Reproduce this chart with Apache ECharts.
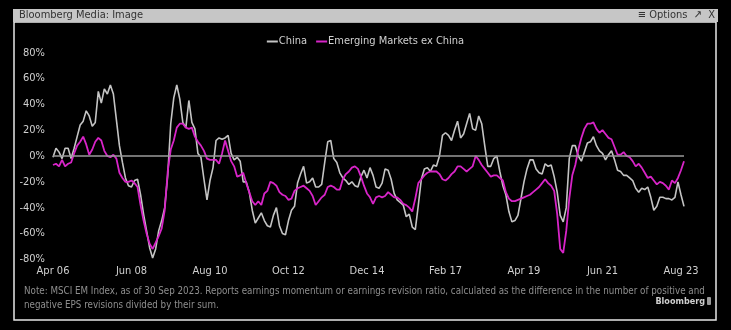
<!DOCTYPE html>
<html><head><meta charset="utf-8">
<script src="https://cdn.jsdelivr.net/npm/echarts@6/dist/echarts.min.js"></script>
<style>html,body{margin:0;padding:0;background:#000;}#c{width:731px;height:330px;}</style>
</head><body><div id="c"></div>
<script>
// Monthly, Apr 2006 .. Sep 2023
const startYear = 2006, startMonth = 3, monthCount = 210;
const monthNames = ['Jan','Feb','Mar','Apr','May','Jun','Jul','Aug','Sep','Oct','Nov','Dec'];
const categories = [];
for (let i = 0; i < monthCount; i++) {
  const mm = (startMonth + i) % 12, yy = startYear + Math.floor((startMonth + i) / 12);
  categories.push(monthNames[mm] + ' ' + String(yy % 100).padStart(2, '0'));
}
const yTicks = [-80, -60, -40, -20, 0, 20, 40, 60, 80];

const china = [
 -1,6,3,-2,6,6,-2,6,15,24, 27,35,31,23,26,50,41,52,48,55,
 48,28,8,-5,-17,-23,-24,-19,-18,-30, -45,-58,-71,-79,-72,-58,-50,-40,-15,25,
 45,55,44,26,22,43,26,21,2,-1, -18,-34,-19,-9,12,14,13,14,16,2,
 -3,-1,-4,-20,-20,-28,-42,-52,-48,-44, -50,-54,-55,-46,-40,-54,-60,-61,-50,-42,
 -39,-21,-14,-8,-21,-20,-17,-24,-24,-22, -5,11,12,-2,-5,-13,-17,-19,-22,-20,
 -23,-24,-16,-11,-17,-9,-15,-24,-25,-21, -10,-11,-18,-29,-34,-36,-38,-47,-45,-55,
 -57,-38,-18,-10,-9,-12,-7,-8,0,16, 18,16,12,20,27,14,17,25,33,21,
 20,31,25,8,-8,-8,-2,0,-12,-23, -30,-43,-51,-50,-46,-33,-20,-10,-3,-3,
 -10,-13,-14,-6,-8,-7,-16,-28,-46,-51, -40,-2,8,8,0,-4,3,10,11,15,
 8,4,2,-3,1,4,-3,-11,-12,-15, -15,-17,-19,-25,-28,-25,-26,-24,-32,-42,
 -39,-32,-32,-33,-33,-34,-32,-20,-30,-39
];
const emExChina = [
 -7,-6,-8,-3,-8,-6,-5,2,8,11, 15,9,1,5,11,14,12,4,0,-1,
 1,-2,-13,-17,-20,-20,-19,-21,-24,-38, -50,-60,-68,-72,-67,-62,-56,-42,-12,5,
 12,22,25,25,22,21,22,15,11,8, 4,-2,-3,-3,-3,-6,2,12,4,-4,
 -8,-16,-15,-13,-21,-28,-35,-38,-35,-38, -29,-27,-20,-21,-23,-28,-30,-31,-34,-33,
 -27,-25,-24,-23,-25,-27,-31,-38,-35,-32, -30,-24,-23,-24,-26,-26,-18,-14,-12,-9,
 -8,-10,-16,-23,-29,-32,-37,-32,-31,-32, -31,-28,-30,-32,-32,-34,-37,-38,-40,-43,
 -33,-21,-18,-15,-13,-12,-12,-12,-14,-18, -19,-17,-14,-12,-8,-8,-10,-12,-10,-8,
 0,-3,-7,-10,-13,-16,-15,-15,-17,-19, -28,-33,-35,-35,-34,-33,-32,-31,-30,-28,
 -26,-24,-21,-18,-21,-23,-27,-45,-72,-75, -58,-33,-15,-7,5,14,21,25,25,26,
 21,18,20,17,14,13,7,1,1,3, 0,-1,-4,-8,-6,-9,-13,-17,-16,-19,
 -22,-20,-21,-23,-26,-19,-21,-17,-11,-4
];

const FONT = "'Liberation Sans Narrow','DejaVu Sans Condensed','Roboto Condensed',sans-serif";
const chart = echarts.init(document.getElementById('c'), null, {renderer: 'canvas'});
chart.setOption({
  backgroundColor: '#000',
  animation: false,
  graphic: [
    {type: 'rect', shape: {x: 13, y: 9, width: 705, height: 13}, style: {fill: '#c6c6c6'}, z: 10},
    {type: 'text', left: 19, top: 10, style: {text: 'Bloomberg Media: Image', fill: '#333', font: "11px " + FONT}, z: 11},
    {type: 'text', right: 16, top: 10, style: {text: '≡ Options  ↗  X', fill: '#333', font: "11px " + FONT}, z: 11},
    {type: 'rect', shape: {x: 14, y: 22, width: 702, height: 298}, style: {fill: 'none', stroke: '#e6e6e6', lineWidth: 1.5}, z: 9},
    {type: 'text', x: 24, y: 284, scaleX: 0.926, style: {text: 'Note: MSCI EM Index, as of 30 Sep 2023. Reports earnings momentum or earnings revision ratio, calculated as the difference in the number of positive and\nnegative EPS revisions divided by their sum.', fill: '#8e8e8e', font: "10.5px " + FONT, lineHeight: 14}, z: 11},
    {type: 'text', right: 26, top: 297, style: {text: 'Bloomberg', fill: '#cfcfcf', font: "bold 9px " + FONT}, z: 11},
    {type: 'rect', shape: {x: 707, y: 297, width: 4, height: 8, r: 1}, style: {fill: '#9a9a9a'}, z: 11}
  ],
  legend: {
    top: 31, left: 'center',
    itemWidth: 11, itemHeight: 2, itemGap: 9,
    icon: 'rect',
    textStyle: {color: '#d0d0d0', fontFamily: FONT, fontSize: 11, padding: [0, 0, 0, -4]},
    data: ['China', 'Emerging Markets ex China']
  },
  grid: {left: 53, right: 47, top: 52.7, bottom: 70.7, containLabel: false},
  xAxis: {
    type: 'category', data: categories, boundaryGap: false,
    axisLine: {show: false}, axisTick: {show: false},
    axisLabel: {interval: 25, color: '#d0d0d0', fontFamily: FONT, fontSize: 11, margin: 6},
    splitLine: {show: false}
  },
  yAxis: {
    type: 'value', min: -80, max: 80, interval: 20,
    axisLine: {show: false}, axisTick: {show: false}, splitLine: {show: false},
    axisLabel: {color: '#d0d0d0', fontFamily: FONT, fontSize: 11, margin: 8,
      formatter: v => yTicks.includes(v) ? v + '%' : ''}
  },
  series: [
    {name: 'China', type: 'line', data: china, showSymbol: false, symbol: 'none',
     lineStyle: {color: '#c4c4c4', width: 1.6}, itemStyle: {color: '#c4c4c4'},
     markLine: {silent: true, symbol: 'none', label: {show: false},
       lineStyle: {color: '#9a9a9a', width: 1.5, type: 'solid'}, data: [{yAxis: 0}]}},
    {name: 'Emerging Markets ex China', type: 'line', data: emExChina, showSymbol: false, symbol: 'none',
     lineStyle: {color: '#d824c8', width: 1.8}, itemStyle: {color: '#d824c8'}}
  ]
});
</script></body></html>
